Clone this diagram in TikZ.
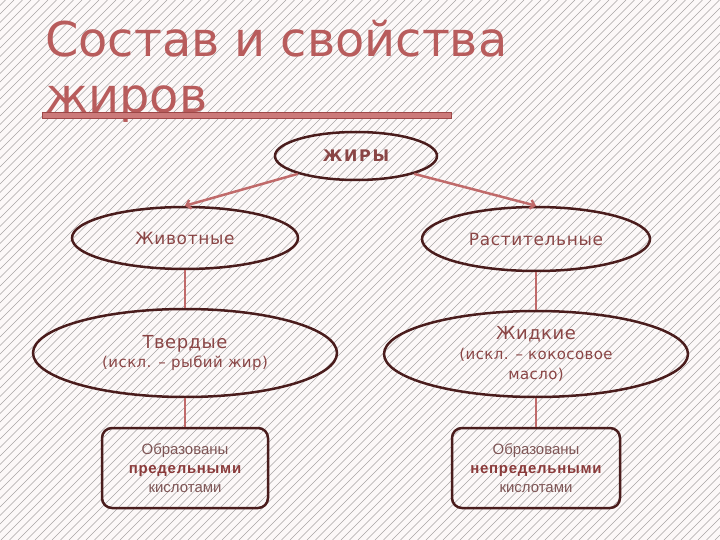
\documentclass[tikz,border=0pt]{standalone}
\usepackage{fontspec}
\setmainfont{DejaVu Sans}
\newfontfamily\arialf{Liberation Sans}
\newfontfamily\spacedf[LetterSpace=4]{DejaVu Sans}
\newfontfamily\spacedsmall[LetterSpace=3]{DejaVu Sans}
\newfontfamily\spacedbold[LetterSpace=11]{DejaVu Sans Bold}
\newfontfamily\arialbold[LetterSpace=5]{Liberation Sans Bold}
\usetikzlibrary{shapes.geometric,arrows.meta}
\definecolor{bg}{HTML}{FCF8F8}
\definecolor{hatch}{HTML}{A8A4A4}
\definecolor{titlec}{HTML}{B85C5C}
\definecolor{barfill}{HTML}{CC7A7A}
\definecolor{bardraw}{HTML}{9E4848}
\definecolor{edgec}{HTML}{4A1C1C}
\definecolor{txtc}{HTML}{8A4545}
\definecolor{boxtxt}{HTML}{7E5555}
\definecolor{boldtxt}{HTML}{8A3A3A}
\definecolor{linkc}{HTML}{C06A6A}
\tikzset{
  ell/.style={ellipse, draw=edgec, line width=2.5bp, inner sep=0pt, text=txtc, align=center},
  boxnode/.style={rectangle, rounded corners=10bp, draw=edgec, line width=2.5bp, inner sep=0pt,
    text=boxtxt, align=center, font=\arialf\fontsize{15}{19}\selectfont},
  arrowlink/.style={draw=linkc, line width=2.5bp, -{Straight Barb[length=4bp,width=9bp]}},
  plainlink/.style={draw=linkc, line width=2bp},
  titletext/.style={anchor=base west, inner sep=0pt, text=titlec, font=\fontsize{48}{56}\selectfont}
}
\begin{document}
\begin{tikzpicture}[x=1bp,y=-1bp]
\useasboundingbox (0,0) rectangle (720,540);
\fill[bg] (0,0) rectangle (720,540);
\begin{scope}
\clip (0,0) rectangle (720,540);
\foreach \i in {-560,-551.5,...,720} \draw[hatch,line width=0.6bp] (\i,540) -- ++(540,-540);
\end{scope}

\node[titletext] (t1) at (45,57) {Состав и свойства};
\node[titletext] (t2) at (45,113) {жиров};
\draw[bardraw, fill=barfill, line width=1bp] (42,113) rectangle (451,119);

\node[ell, minimum width=162bp, minimum height=48bp, font=\spacedbold\fontsize{16}{16}\selectfont] (zh) at (356,156) {ЖИРЫ};

\node[ell, minimum width=226bp, minimum height=62bp, font=\spacedf\fontsize{17}{20}\selectfont] (zhiv) at (185,238) {Животные};
\node[ell, minimum width=228bp, minimum height=64bp, font=\spacedf\fontsize{17}{20}\selectfont] (rast) at (536,239) {Растительные};

\node[ell, minimum width=304bp, minimum height=88bp, font=\spacedsmall\fontsize{15}{20}\selectfont] (tv) at (185,353)
  {{\fontsize{18}{20}\selectfont Твердые}\\(искл. – рыбий жир)};
\node[ell, minimum width=304bp, minimum height=86bp, font=\spacedsmall\fontsize{15}{20}\selectfont] (zhid) at (536,354)
  {{\fontsize{18}{20}\selectfont Жидкие}\\(искл. – кокосовое\\масло)};

\node[boxnode, minimum width=166bp, minimum height=80bp] (b1) at (185,468)
  {Образованы\\{\arialbold\color{boldtxt}предельными}\\кислотами};
\node[boxnode, minimum width=168bp, minimum height=80bp] (b2) at (536,468)
  {Образованы\\{\arialbold\color{boldtxt}непредельными}\\кислотами};

\draw[arrowlink] (zh.south west) -- (zhiv.north);
\draw[arrowlink] (zh.south east) -- (rast.north);
\draw[plainlink] (zhiv.south) -- (tv.north);
\draw[plainlink] (tv.south) -- (b1.north);
\draw[plainlink] (rast.south) -- (zhid.north);
\draw[plainlink] (zhid.south) -- (b2.north);
\end{tikzpicture}
\end{document}
